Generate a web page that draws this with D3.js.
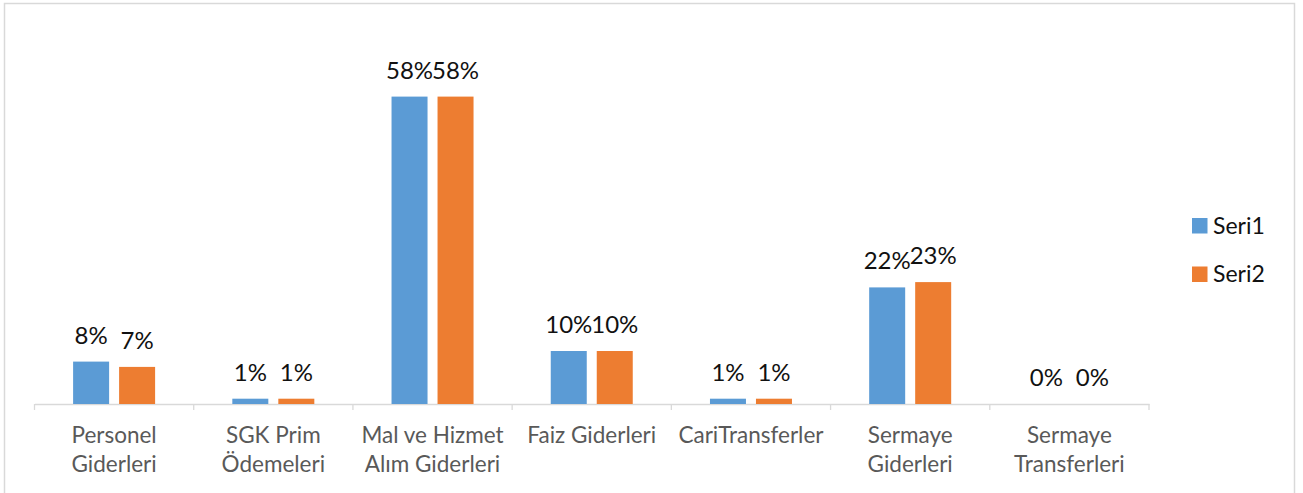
<!DOCTYPE html>
<html lang="tr">
<head>
    <meta charset="UTF-8">
    <title>Seri1 / Seri2</title>
    <style>
        body { margin: 0; background: #fff; }
        svg { display: block; font-family: Lato, "Open Sans", sans-serif; }
    </style>
</head>
<body>
    <script src="https://cdn.jsdelivr.net/npm/d3@7/dist/d3.min.js"></script>
    <script>
        const width = 1303, height = 493;

        // data
        const categories = ['Personel Giderleri', 'SGK Prim Ödemeleri', 'Mal ve Hizmet Alım Giderleri',
            'Faiz Giderleri', 'CariTransferler', 'Sermaye Giderleri', 'Sermaye Transferleri'];
        const seriesNames = ['Seri1', 'Seri2'];
        const seri1 = [0.08, 0.01, 0.58, 0.10, 0.01, 0.22, 0.00];
        const seri2 = [0.07, 0.01, 0.58, 0.10, 0.01, 0.23, 0.00];
        const colors = ['#5b9bd5', '#ed7d31'];

        const rows = categories.map((c, i) => ({cat: c, vals: [seri1[i], seri2[i]]}));

        const svg = d3.select('body').append('svg')
            .attr('width', width).attr('height', height);

        // chart border
        svg.append('rect')
            .attr('x', 4.5).attr('y', 3.5)
            .attr('width', 1290).attr('height', 520)
            .attr('fill', 'none').attr('stroke', '#d9d9d9').attr('stroke-width', 1.5);

        const x = d3.scaleBand().domain(categories).range([34.5, 1149]).padding(0);
        const y = d3.scaleLinear().domain([0, 0.7]).range([404, 33]);
        const xs = d3.scaleBand().domain(seriesNames).range([-41, 41]).paddingInner(10 / 46).paddingOuter(0);

        // axis line + ticks
        const axis = svg.append('g').attr('transform', `translate(0,${y(0)})`)
            .call(d3.axisBottom(x).tickSize(0).tickFormat(''));
        axis.select('.domain').attr('stroke', '#d9d9d9').attr('stroke-width', 1.3);
        svg.append('g').selectAll('line')
            .data(d3.range(categories.length + 1))
            .join('line')
            .attr('x1', i => x.range()[0] + i * x.step())
            .attr('x2', i => x.range()[0] + i * x.step())
            .attr('y1', y(0)).attr('y2', y(0) + 6)
            .attr('stroke', '#d9d9d9').attr('stroke-width', 1.3);

        const groups = svg.append('g').selectAll('g')
            .data(rows).join('g')
            .attr('transform', d => `translate(${x(d.cat) + x.bandwidth() / 2},0)`);

        groups.selectAll('rect')
            .data(d => d.vals.map((v, k) => ({v, k})))
            .join('rect')
            .attr('x', d => xs(seriesNames[d.k]))
            .attr('width', xs.bandwidth())
            .attr('y', d => y(d.v))
            .attr('height', d => y(0) - y(d.v))
            .attr('fill', d => colors[d.k]);

        groups.selectAll('text.lbl')
            .data(d => d.vals.map((v, k) => ({v, k})))
            .join('text')
            .attr('class', 'lbl')
            .attr('x', d => xs(seriesNames[d.k]) + xs.bandwidth() / 2)
            .attr('y', d => y(d.v) - 18)
            .attr('text-anchor', 'middle')
            .attr('font-size', 24)
            .attr('fill', '#111')
            .text(d => d3.format('.0%')(d.v));

        // category labels, wrapped to the band width
        const catText = svg.append('g').selectAll('text')
            .data(categories).join('text')
            .attr('x', d => x(d) + x.bandwidth() / 2)
            .attr('y', 443)
            .attr('text-anchor', 'middle')
            .attr('font-size', 22.5)
            .attr('fill', '#595959');

        catText.each(function (d) {
            const t = d3.select(this);
            const words = d.split(' ');
            let line = [];
            let ts = t.append('tspan').attr('x', x(d) + x.bandwidth() / 2).attr('dy', 0);
            words.forEach(w => {
                line.push(w);
                ts.text(line.join(' '));
                if (ts.node().getComputedTextLength() > x.bandwidth() - 4 && line.length > 1) {
                    line.pop();
                    ts.text(line.join(' '));
                    line = [w];
                    ts = t.append('tspan').attr('x', x(d) + x.bandwidth() / 2).attr('dy', 29).text(w);
                }
            });
        });

        // legend
        const legend = svg.append('g').selectAll('g')
            .data(seriesNames).join('g')
            .attr('transform', (d, i) => `translate(1192,${218 + i * 48.5})`);
        legend.append('rect').attr('width', 15.5).attr('height', 15.5)
            .attr('fill', (d, i) => colors[i]);
        legend.append('text').attr('x', 21).attr('y', 15.5)
            .attr('font-size', 23).attr('fill', '#111')
            .text(d => d);
    </script>
</body>
</html>
